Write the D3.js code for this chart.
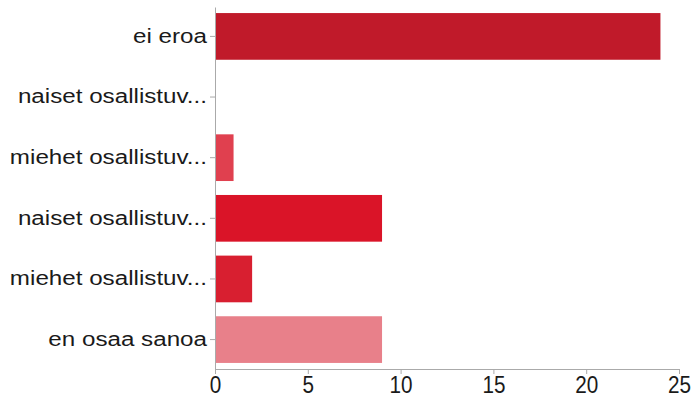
<!DOCTYPE html>
<html>
<head>
<meta charset="utf-8">
<script src="https://cdn.jsdelivr.net/npm/d3@7"></script>
<style>
  body { margin: 0; background: #fff; }
  svg text { font-family: "Liberation Sans", Arial, Helvetica, sans-serif; }
</style>
</head>
<body>
<div id="container"></div>
<script>
// answers and counts
const categories = ["ei eroa", "naiset osallistuv...", "miehet osallistuv...", "naiset osallistuv...", "miehet osallistuv...", "en osaa sanoa"];
const counts = [24, 0, 1, 9, 2, 9];
const barColors = ["#c01a2a", "#e0404f", "#e0404f", "#da1428", "#d81f30", "#e8808a"];
const xTicks = [0, 5, 10, 15, 20, 25];

const width = 692;
const height = 404;
const margin = { top: 7, right: 13, bottom: 35, left: 215 };
const labelStretch = 1.21; // the picture is a bit wide

const svg = d3.select("#container")
    .append("svg")
    .attr("width", width)
    .attr("height", height);

const rows = categories.map((c, i) => ({ i, label: c, value: counts[i], color: barColors[i] }));

const x = d3.scaleLinear()
    .domain([0, 25])
    .range([margin.left, width - margin.right]);

const y = d3.scaleBand()
    .domain(d3.range(rows.length))
    .range([margin.top, height - margin.bottom])
    .paddingInner(0.23)
    .paddingOuter(0.1);

svg.selectAll(".bar")
    .data(rows)
    .enter()
    .append("rect")
    .attr("class", "bar")
    .attr("x", x(0))
    .attr("y", d => y(d.i))
    .attr("width", d => x(d.value) - x(0))
    .attr("height", y.bandwidth())
    .attr("fill", d => d.color);

// x axis
const xAxis = svg.append("g")
    .attr("transform", `translate(0,${height - margin.bottom})`)
    .call(d3.axisBottom(x).tickValues(xTicks).tickSize(5).tickPadding(3));
xAxis.select(".domain").attr("stroke", "#aaa");
xAxis.selectAll(".tick line").attr("stroke", "#aaa");
xAxis.selectAll(".tick text")
    .attr("font-size", "23px")
    .attr("transform", "scale(0.9,1)")
    .attr("fill", "#1a1a1a");

// y axis
const yAxis = svg.append("g")
    .attr("transform", `translate(${margin.left},0)`)
    .call(d3.axisLeft(y).tickFormat(i => categories[i]).tickSize(5).tickSizeOuter(0).tickPadding(3));
yAxis.select(".domain").attr("stroke", "#aaa");
yAxis.selectAll(".tick line").attr("stroke", "#aaa");
yAxis.selectAll(".tick text")
    .attr("font-size", "20px")
    .attr("x", -8 / labelStretch)
    .attr("transform", `scale(${labelStretch},1)`)
    .attr("fill", "#1a1a1a");
</script>
</body>
</html>
